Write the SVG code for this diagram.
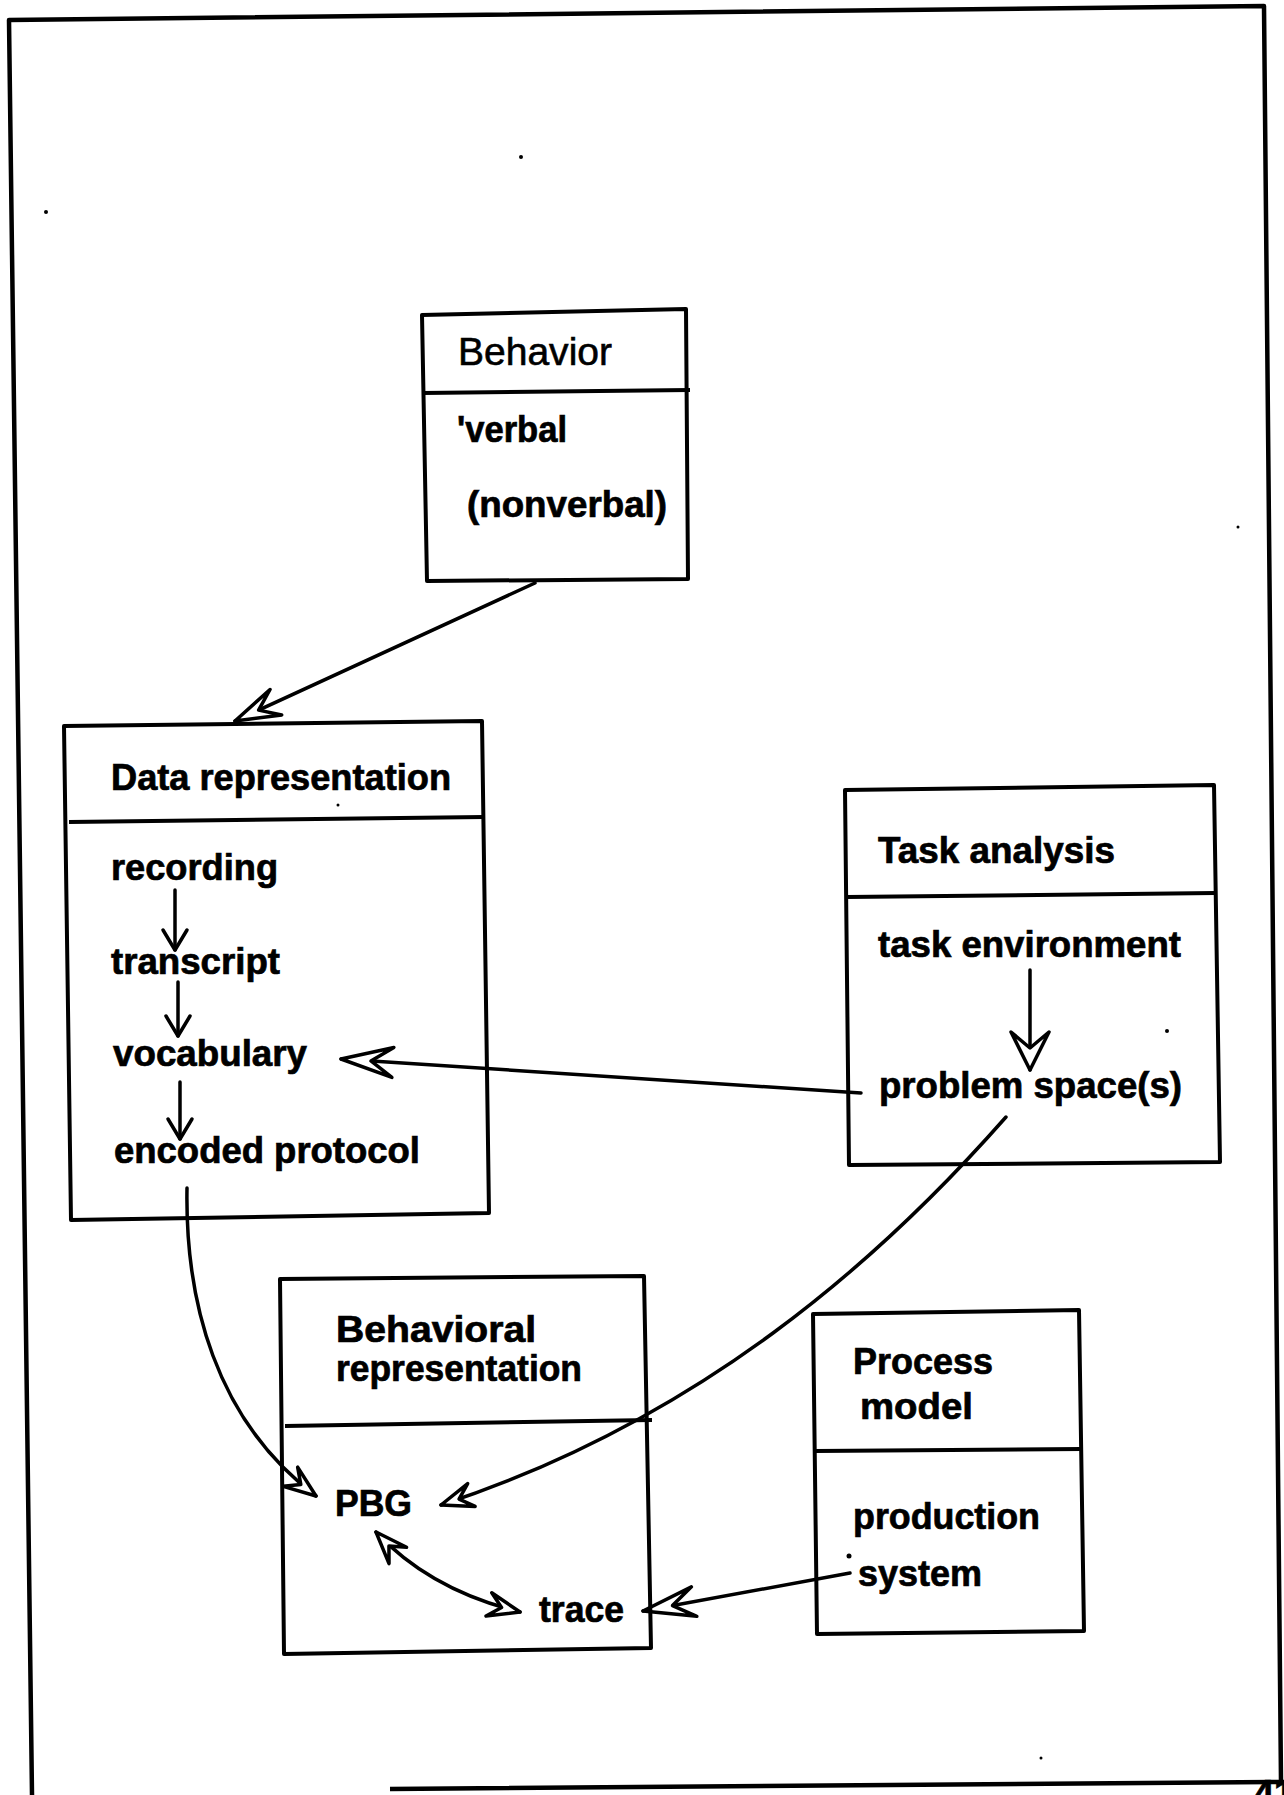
<svg xmlns="http://www.w3.org/2000/svg" width="1284" height="1795" viewBox="0 0 1284 1795">
<style>
.box{fill:none;stroke:#000;stroke-width:4;stroke-linejoin:round}
.div{fill:none;stroke:#000;stroke-width:4}
.t{font-family:"Liberation Sans",Arial,sans-serif;font-weight:bold;font-size:36px;fill:#000;stroke:#000;stroke-width:0.7}
.tr{font-family:"Liberation Sans",Arial,sans-serif;font-weight:normal;font-size:38px;fill:#000;stroke:#000;stroke-width:0.6}
.c{fill:none;stroke:#000;stroke-width:3.5;stroke-linecap:round}
.frame{fill:none;stroke:#000;stroke-width:4.5;stroke-linejoin:round}
.hd{fill:#fff;stroke:#000;stroke-width:3.5;stroke-linejoin:round}
.vh{fill:none;stroke:#000;stroke-width:3.5;stroke-linecap:round;stroke-linejoin:round}
</style>
<defs>
<marker id="hA" viewBox="-70 -35 80 70" markerWidth="80" markerHeight="70" refX="0" refY="0" orient="auto" markerUnits="userSpaceOnUse" overflow="visible"><path class="hd" d="M0,0 L-45,-14 L-26,0 L-45,14 Z"/></marker>
<marker id="hB" viewBox="-70 -35 80 70" markerWidth="80" markerHeight="70" refX="0" refY="0" orient="auto" markerUnits="userSpaceOnUse" overflow="visible"><path class="hd" d="M0,0 L-52,-15 L-30,0 L-52,15 Z"/></marker>
<marker id="hC" viewBox="-70 -35 80 70" markerWidth="80" markerHeight="70" refX="0" refY="0" orient="auto" markerUnits="userSpaceOnUse" overflow="visible"><path class="hd" d="M0,0 L-38,-19 L-22,0 L-38,19 Z"/></marker>
<marker id="hD" viewBox="-70 -35 80 70" markerWidth="80" markerHeight="70" refX="0" refY="0" orient="auto-start-reverse" markerUnits="userSpaceOnUse" overflow="visible"><path class="hd" d="M0,0 L-32,-12 L-19,0 L-32,12 Z"/></marker>
<marker id="vee" viewBox="-40 -20 50 40" markerWidth="50" markerHeight="40" refX="0" refY="0" orient="auto" markerUnits="userSpaceOnUse" overflow="visible"><path class="vh" d="M-20,-12 L0,0 L-20,12"/></marker>
</defs>

<g id="page">
<path class="frame" d="M32,1795 L9,20 L1264,6 L1281,1782 L390,1789"/>
<text x="1254" y="1806" class="t" font-size="24">41</text>
<circle cx="521" cy="157" r="2"/>
<circle cx="46" cy="212" r="2"/>
<circle cx="1238" cy="527" r="1.5"/>
<circle cx="1167" cy="1031" r="2"/>
<circle cx="1041" cy="1758" r="1.5"/>
<circle cx="338" cy="805" r="1.5"/>
</g>

<g id="connectors">
<path class="c" d="M535,583 L235,721" marker-end="url(#hA)"/>
<path class="c" d="M175,890 L175,950" marker-end="url(#vee)"/>
<path class="c" d="M178,982 L178,1036" marker-end="url(#vee)"/>
<path class="c" d="M180,1082 L180,1139" marker-end="url(#vee)"/>
<path class="c" d="M861,1093 L341,1059" marker-end="url(#hB)"/>
<path class="c" d="M1030,970 L1030,1070" marker-end="url(#hC)"/>
<path class="c" d="M187,1188 C185,1300 215,1420 316,1496" marker-end="url(#hD)"/>
<path class="c" d="M1006,1117 C880,1260 700,1420 441,1505" marker-end="url(#hD)"/>
<path class="c" d="M376,1532 Q430,1590 520,1612" marker-start="url(#hD)" marker-end="url(#hD)"/>
<path class="c" d="M850,1573 L643,1611" marker-end="url(#hB)"/>
<circle cx="849" cy="1556" r="2.5"/>
</g>

<g id="behavior">
<path class="box" d="M422,315 L686,309 L688,579 L427,581 Z"/>
<path class="div" d="M423,393 L690,390"/>
<text class="tr" x="458" y="365" textLength="154" lengthAdjust="spacingAndGlyphs">Behavior</text>
<text class="t" x="457" y="442" textLength="110" lengthAdjust="spacingAndGlyphs">'verbal</text>
<text class="t" x="467" y="517" textLength="200" lengthAdjust="spacingAndGlyphs">(nonverbal)</text>
</g>

<g id="data-representation">
<path class="box" d="M64,726 L482,721 L489,1213 L71,1220 Z"/>
<path class="div" d="M69,822 L484,817"/>
<text class="t" x="111" y="790" textLength="340" lengthAdjust="spacingAndGlyphs">Data representation</text>
<text class="t" x="111" y="880" textLength="167" lengthAdjust="spacingAndGlyphs">recording</text>
<text class="t" x="111" y="974" textLength="169" lengthAdjust="spacingAndGlyphs">transcript</text>
<text class="t" x="113" y="1066" textLength="194" lengthAdjust="spacingAndGlyphs">vocabulary</text>
<text class="t" x="114" y="1163" textLength="306" lengthAdjust="spacingAndGlyphs">encoded protocol</text>
</g>

<g id="task-analysis">
<path class="box" d="M845,790 L1214,785 L1220,1162 L849,1165 Z"/>
<path class="div" d="M847,897 L1215,893"/>
<text class="t" x="878" y="863" textLength="237" lengthAdjust="spacingAndGlyphs">Task analysis</text>
<text class="t" x="878" y="957" textLength="303" lengthAdjust="spacingAndGlyphs">task environment</text>
<text class="t" x="879" y="1098" textLength="303" lengthAdjust="spacingAndGlyphs">problem space(s)</text>
</g>

<g id="behavioral-representation">
<path class="box" d="M280,1279 L644,1276 L651,1648 L284,1654 Z"/>
<path class="div" d="M285,1426 L652,1420"/>
<text class="t" x="336" y="1342" font-size="33" textLength="200" lengthAdjust="spacingAndGlyphs">Behavioral</text>
<text class="t" x="336" y="1381" font-size="33" textLength="246" lengthAdjust="spacingAndGlyphs">representation</text>
<text class="t" x="335" y="1516" textLength="77" lengthAdjust="spacingAndGlyphs">PBG</text>
<text class="t" x="539" y="1622" textLength="85" lengthAdjust="spacingAndGlyphs">trace</text>
</g>

<g id="process-model">
<path class="box" d="M813,1314 L1079,1310 L1084,1631 L817,1634 Z"/>
<path class="div" d="M816,1451 L1082,1449"/>
<text class="t" x="853" y="1374" textLength="140" lengthAdjust="spacingAndGlyphs">Process</text>
<text class="t" x="860" y="1419" textLength="113" lengthAdjust="spacingAndGlyphs">model</text>
<text class="t" x="853" y="1529" textLength="187" lengthAdjust="spacingAndGlyphs">production</text>
<text class="t" x="858" y="1586" textLength="124" lengthAdjust="spacingAndGlyphs">system</text>
</g>
</svg>
